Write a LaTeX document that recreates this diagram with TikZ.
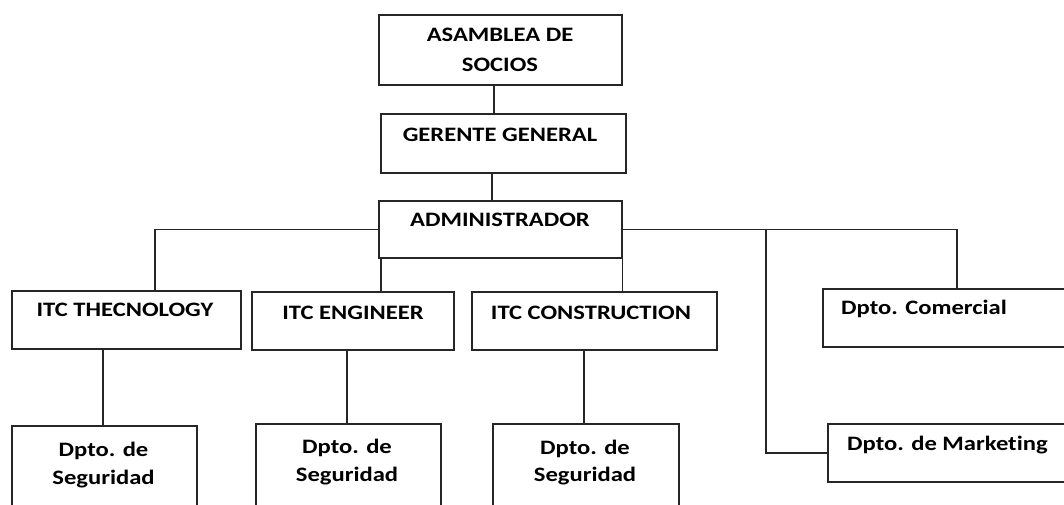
\documentclass[tikz,border=0pt]{standalone}
\usepackage{fontspec}
\setmainfont{Carlito}[FakeStretch=1.2,Ligatures=NoCommon]
\begin{document}
\begin{tikzpicture}[x=1pt,y=-1pt,
  box/.style={draw=black!85,line width=1.4pt,inner sep=0pt,minimum width=#1},
  lbl/.style={anchor=base,inner sep=0pt,text=black,font=\fontsize{20.5}{24}\selectfont\bfseries},
  link/.style={draw=black!85,line width=1.4pt}]
\useasboundingbox (0,0) rectangle (1064,504);
\clip (0,0) rectangle (1064,504);
% boxes
\node[box=243pt,minimum height=70pt] (as) at (500.5,50) {};
\node[box=245pt,minimum height=59pt] (ge) at (503.5,143.5) {};
\node[box=243pt,minimum height=57pt] (ad) at (500.5,229.5) {};
\node[box=229pt,minimum height=58pt] (tec) at (126.5,320) {};
\node[box=202pt,minimum height=58pt] (eng) at (353,321) {};
\node[box=245pt,minimum height=58pt] (con) at (594.5,321) {};
\node[box=257pt,minimum height=58pt] (com) at (951.5,318) {};
\node[box=252pt,minimum height=58pt] (mkt) at (954,453) {};
\node[box=185pt,minimum height=94pt] (s1) at (104.5,473) {};
\node[box=185pt,minimum height=96pt] (s2) at (348.5,472) {};
\node[box=186pt,minimum height=96pt] (s3) at (586,472) {};
% texts
\node[lbl] (tas1) at (500,41.7) {ASAMBLEA DE};
\node[lbl] (tas2) at (500,71) {SOCIOS};
\node[lbl] (tge) at (500,141.7) {GERENTE GENERAL};
\node[lbl] (tad) at (500,226.7) {ADMINISTRADOR};
\node[lbl] (ttec) at (125,316) {ITC THECNOLOGY};
\node[lbl] (teng) at (353,319.3) {ITC ENGINEER};
\node[lbl] (tcon) at (591,319) {ITC CONSTRUCTION};
\node[lbl,anchor=base west] (tcom) at (841,314.3) {Dpto. Comercial};
\node[lbl,anchor=base west] (tmkt) at (847,450.7) {Dpto. de Marketing};
\node[lbl] (ts1a) at (103.5,456) {Dpto. de};
\node[lbl] (ts1b) at (103.5,484) {Seguridad};
\node[lbl] (ts2a) at (347,453.3) {Dpto. de};
\node[lbl] (ts2b) at (347,481.7) {Seguridad};
\node[lbl] (ts3a) at (585,454) {Dpto. de};
\node[lbl] (ts3b) at (585,481.7) {Seguridad};
% junction points
\coordinate (jl) at (155,229.5);
\coordinate (jm) at (766,229.5);
\coordinate (jr) at (957,229.5);
% connectors
\draw[link] (as.south -| 494,0) -- (ge.north -| 494,0);
\draw[link] (ge.south -| 492,0) -- (ad.north -| 492,0);
\draw[link] (ad.west) -- (jl) -- (tec.north -| jl);
\draw[link] (ad.south -| 381,0) -- (eng.north -| 381,0);
\draw[link] (ad.east) -- (jr) -- (com.north -| jr);
\draw[link] (ad.south east) -- (con.north -| ad.east);
\draw[link] (jm) |- (mkt.west);
\draw[link] (tec.south -| 103,0) -- (s1.north -| 103,0);
\draw[link] (eng.south -| 347,0) -- (s2.north -| 347,0);
\draw[link] (con.south -| 584,0) -- (s3.north -| 584,0);
\end{tikzpicture}
\end{document}
